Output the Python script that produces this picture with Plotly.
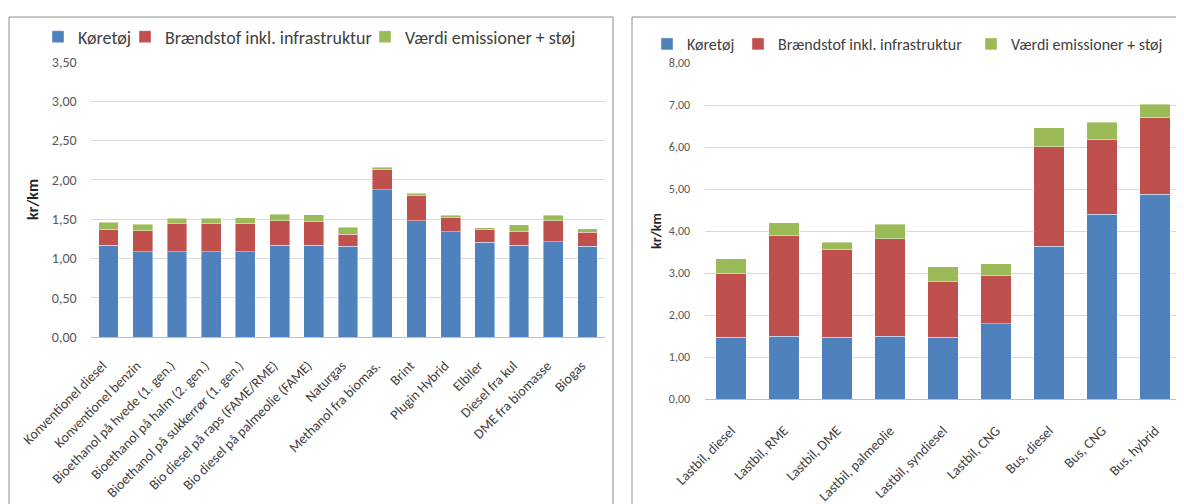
import plotly.graph_objects as go

# page has an 8px body margin, so the figure is laid out in reference pixels minus 8
OX, OY = 8, 8
FW, FH = 1176, 496

# ---------------- data ----------------
left_categories = [
    "Konventionel diesel", "Konventionel benzin", "Bioethanol på hvede (1. gen.)",
    "Bioethanol på halm (2. gen.)", "Bioethanol på sukkerrør (1. gen.)",
    "Bio diesel på raps (FAME/RME)", "Bio diesel på palmeolie (FAME)", "Naturgas",
    "Methanol fra biomas.", "Brint", "Plugin Hybrid", "Elbiler", "Diesel fra kul",
    "DME fra biomasse", "Biogas",
]
left_koretoj = [1.17, 1.085, 1.085, 1.085, 1.085, 1.17, 1.17, 1.153, 1.877, 1.48, 1.34, 1.204, 1.17, 1.213, 1.153]
left_braendstof = [0.20, 0.265, 0.355, 0.355, 0.365, 0.31, 0.30, 0.157, 0.259, 0.32, 0.175, 0.162, 0.175, 0.267, 0.183]
left_emission = [0.09, 0.085, 0.07, 0.07, 0.07, 0.085, 0.087, 0.086, 0.026, 0.03, 0.035, 0.024, 0.085, 0.07, 0.044]

right_categories = [
    "Lastbil, diesel", "Lastbil, RME", "Lastbil, DME", "Lastbil, palmeolie",
    "Lastbil, syndiesel", "Lastbil, CNG", "Bus, diesel", "Bus, CNG", "Bus, hybrid",
]
right_koretoj = [1.465, 1.497, 1.465, 1.497, 1.465, 1.79, 3.64, 4.40, 4.88]
right_braendstof = [1.535, 2.393, 2.105, 2.323, 1.325, 1.15, 2.37, 1.79, 1.83]
right_emission = [0.34, 0.31, 0.16, 0.34, 0.36, 0.28, 0.45, 0.40, 0.31]

left_ticks = [0, 0.5, 1, 1.5, 2, 2.5, 3, 3.5]
right_ticks = [0, 1, 2, 3, 4, 5, 6, 7, 8]

series_names = ["Køretøj", "Brændstof inkl. infrastruktur", "Værdi emissioner + støj"]
colors = ["#4F81BD", "#C0504D", "#9BBB59"]

FONT = "Carlito, Liberation Sans, Arial, sans-serif"


def px(x):
    return (x - OX) / FW


def py(y):
    return 1 - (y - OY) / FH


fig = go.Figure()

left_legends = ["legend2", "legend3", "legend4"]
right_legends = ["legend5", "legend6", "legend7"]

for name, vals, col, lg in zip(series_names, [left_koretoj, left_braendstof, left_emission], colors, left_legends):
    fig.add_trace(go.Bar(
        x=left_categories, y=vals, name=name, marker_color=col,
        marker_line=dict(width=0.6, color="rgba(255,255,255,0.7)"),
        xaxis="x", yaxis="y", legend=lg,
    ))

for name, vals, col, lg in zip(series_names, [right_koretoj, right_braendstof, right_emission], colors, right_legends):
    fig.add_trace(go.Bar(
        x=right_categories, y=vals, name=name, marker_color=col,
        marker_line=dict(width=0.6, color="rgba(255,255,255,0.7)"),
        xaxis="x2", yaxis="y2", legend=lg,
    ))

grid = "#D9D9D9"


def legend_at(text_x, y, size):
    return dict(
        orientation="h", x=px(text_x - 37), xanchor="left", y=py(y), yanchor="middle",
        font=dict(family=FONT, size=size, color="#404040"), bgcolor="rgba(0,0,0,0)",
    )


fig.update_layout(
    width=FW, height=FH,
    margin=dict(l=0, r=0, t=0, b=0, autoexpand=False),
    paper_bgcolor="white", plot_bgcolor="white",
    barmode="stack", bargap=0.42,
    separators=", ",
    font=dict(family=FONT),
    xaxis=dict(
        domain=[px(91.4), px(604.6)], anchor="y", type="category", automargin=False,
        tickangle=-45, tickfont=dict(family=FONT, size=14, color="#404040"), showgrid=False,
        showline=True, linecolor="#BFBFBF", linewidth=1,
        ticks="outside", ticklen=14, tickcolor="rgba(0,0,0,0)", ticklabelshift=-6,
    ),
    yaxis=dict(
        domain=[py(337), py(62)], anchor="x", range=[0, 3.5], automargin=False,
        tickvals=left_ticks, tickformat=".2f",
        tickfont=dict(family=FONT, size=14, color="#595959"),
        showgrid=True, gridcolor=grid, gridwidth=1, zeroline=False,
        ticks="outside", ticklen=11, tickcolor="rgba(0,0,0,0)",
        title=dict(text="kr/km", font=dict(family=FONT, size=16, color="#262626", weight="bold"), standoff=9),
    ),
    xaxis2=dict(
        domain=[px(704.5), px(1181.5)], anchor="y2", type="category", automargin=False,
        tickangle=-45, tickfont=dict(family=FONT, size=14, color="#404040"), showgrid=False,
        showline=True, linecolor="#BFBFBF", linewidth=1,
        ticks="outside", ticklen=17, tickcolor="rgba(0,0,0,0)",
    ),
    yaxis2=dict(
        domain=[py(399), py(63)], anchor="x2", range=[0, 8], automargin=False,
        tickvals=right_ticks, tickformat=".2f",
        tickfont=dict(family=FONT, size=12, color="#595959"),
        showgrid=True, gridcolor=grid, gridwidth=1, zeroline=False,
        ticks="outside", ticklen=11, tickcolor="rgba(0,0,0,0)",
        title=dict(text="kr/km", font=dict(family=FONT, size=14, color="#262626", weight="bold"), standoff=3),
    ),
    legend2=legend_at(75, 37, 18),
    legend3=legend_at(162, 37, 18),
    legend4=legend_at(402, 37, 18),
    legend5=legend_at(684, 44, 16),
    legend6=legend_at(775, 44, 16),
    legend7=legend_at(1008, 44, 16),
    shapes=[
        dict(type="rect", xref="paper", yref="paper", x0=px(9), x1=px(613), y0=py(530), y1=py(17),
             line=dict(color="#8C8C8C", width=1), layer="below"),
        dict(type="rect", xref="paper", yref="paper", x0=px(632), x1=px(1210), y0=py(530), y1=py(17),
             line=dict(color="#8C8C8C", width=1), layer="below"),
    ],
)

fig.write_html("out.html")
